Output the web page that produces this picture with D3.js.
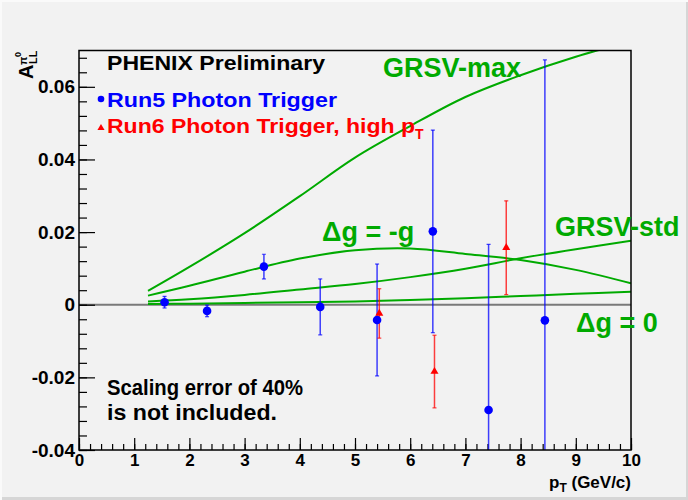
<!DOCTYPE html>
<html>
<head>
<meta charset="utf-8">
<script src="https://cdn.jsdelivr.net/npm/d3@7"></script>
<style>
  html, body { margin: 0; padding: 0; background: #f2f2f2; }
  svg { display: block; font-family: "Liberation Sans", Arial, sans-serif; font-weight: bold; }
</style>
</head>
<body>
<div id="chart"></div>
<script>
'use strict';

// Run5 photon trigger (blue circles)
var run5X = [1.55, 2.32, 3.35, 4.37, 5.40, 6.41, 7.42, 8.44];
var run5Y = [0.0007, -0.0017, 0.0105, -0.0006, -0.0042, 0.0202, -0.0290, -0.0043];
var run5Err = [0.0016, 0.0016, 0.0034, 0.0077, 0.0154, 0.0279, 0.0456, 0.0717];

// Run6 photon trigger, high pT (red triangles)
var run6X = [5.44, 6.44, 7.74];
var run6Y = [-0.0024, -0.0184, 0.0157];
var run6Err = [0.0068, 0.0100, 0.0129];

// theory curves
var curveX = [1.25, 2, 3, 4, 5, 6, 7, 8, 9, 10];
var grsvMax = [0.0038, 0.0104, 0.0197, 0.0299, 0.0405, 0.0492, 0.0572, 0.0632, 0.0683, 0.0725];
var grsvStd = [0.0009, 0.0015, 0.0027, 0.0042, 0.0057, 0.0076, 0.0099, 0.0128, 0.0153, 0.0176];
var dgMinusG = [0.0025, 0.0052, 0.0091, 0.0127, 0.0150, 0.0155, 0.0140, 0.0123, 0.0096, 0.0059];
var dgZero = [0.0002, 0.0003, 0.0005, 0.0007, 0.0009, 0.0013, 0.0018, 0.0024, 0.0030, 0.0036];

var xTicks = [0, 1, 2, 3, 4, 5, 6, 7, 8, 9, 10];
var yTicks = [-0.04, -0.02, 0, 0.02, 0.04, 0.06];

(function() {
    var width = 688, height = 500;
    var pLeft = 79, pRight = 631, pTop = 50.5, pBottom = 450;
    var green = '#00aa00';

    var svg = d3.select('#chart').append('svg')
        .attr('width', width)
        .attr('height', height);

    // canvas with bevelled border
    svg.append('rect').attr('width', width).attr('height', height).attr('fill', '#f2f2f2');
    svg.append('rect').attr('x', 0).attr('y', height - 3).attr('width', width).attr('height', 3).attr('fill', '#d6d6d6');
    svg.append('rect').attr('x', width - 2).attr('y', 0).attr('width', 2).attr('height', height).attr('fill', '#d6d6d6');
    svg.append('rect').attr('x', 0).attr('y', 0).attr('width', width).attr('height', 2).attr('fill', '#fafafa');
    svg.append('rect').attr('x', 0).attr('y', 0).attr('width', 2).attr('height', height).attr('fill', '#fafafa');

    var x = d3.scaleLinear().domain([0, 10]).range([pLeft, pRight]);
    var y = d3.scaleLinear().domain([-0.04, 0.07]).range([pBottom, pTop]);

    svg.append('clipPath').attr('id', 'plot')
        .append('rect')
        .attr('x', pLeft).attr('y', pTop)
        .attr('width', pRight - pLeft).attr('height', pBottom - pTop);

    // zero line
    svg.append('line')
        .attr('x1', pLeft).attr('x2', pRight)
        .attr('y1', y(0)).attr('y2', y(0))
        .attr('stroke', '#7a7a7a').attr('stroke-width', 2);

    // axes
    function fmtY(d) { return d === 0 ? '0' : d.toFixed(2); }

    var yMinorVals = d3.range(-0.04, 0.0701, 0.004).map(function(d) { return +d.toFixed(3); });
    var xMinorVals = d3.range(0, 10.01, 0.2).map(function(d) { return +d.toFixed(1); });

    svg.append('g').attr('class', 'aix')
        .attr('transform', 'translate(' + pLeft + ',0)')
        .call(d3.axisLeft(y).tickValues(yMinorVals).tickSizeInner(-8).tickSizeOuter(0).tickFormat(''));
    svg.append('g').attr('class', 'aix ylab')
        .attr('transform', 'translate(' + pLeft + ',0)')
        .call(d3.axisLeft(y).tickValues(yTicks).tickSizeInner(-16).tickSizeOuter(0).tickPadding(4).tickFormat(fmtY));

    svg.append('g').attr('class', 'aix')
        .attr('transform', 'translate(0,' + pBottom + ')')
        .call(d3.axisBottom(x).tickValues(xMinorVals).tickSizeInner(-6).tickSizeOuter(0).tickFormat(''));
    svg.append('g').attr('class', 'aix xlab')
        .attr('transform', 'translate(0,' + pBottom + ')')
        .call(d3.axisBottom(x).tickValues(xTicks).tickSizeInner(-12).tickSizeOuter(0).tickPadding(4).tickFormat(d3.format('d')));

    svg.selectAll('.aix').attr('font-family', null).attr('font-size', null);
    svg.selectAll('.aix .domain').remove();
    svg.selectAll('.aix line').attr('stroke', '#000').attr('stroke-width', 1.2);
    svg.selectAll('.aix text').attr('fill', '#000');
    svg.selectAll('.ylab text').style('font-size', '19px');
    svg.selectAll('.xlab text').style('font-size', '17px');

    // curves
    var line = d3.line()
        .x(function(d) { return x(d[0]); })
        .y(function(d) { return y(d[1]); })
        .curve(d3.curveCatmullRom.alpha(0.5));

    var curves = svg.append('g').attr('clip-path', 'url(#plot)');
    [grsvMax, grsvStd, dgMinusG, dgZero].forEach(function(vals) {
        curves.append('path')
            .attr('d', line(curveX.map(function(cx, i) { return [cx, vals[i]]; })))
            .attr('fill', 'none')
            .attr('stroke', green)
            .attr('stroke-width', 2);
    });

    // error bars + markers
    function errorBars(g, xs, ys, es, color, opacity) {
        xs.forEach(function(px, i) {
            var lo = ys[i] - es[i], hi = ys[i] + es[i];
            g.append('line')
                .attr('x1', x(px)).attr('x2', x(px))
                .attr('y1', y(lo)).attr('y2', y(hi))
                .attr('stroke', color).attr('stroke-width', 1.5).attr('stroke-opacity', opacity);
            [lo, hi].forEach(function(v) {
                g.append('line')
                    .attr('x1', x(px) - 2).attr('x2', x(px) + 2)
                    .attr('y1', y(v)).attr('y2', y(v))
                    .attr('stroke', color).attr('stroke-width', 1.2).attr('stroke-opacity', opacity);
            });
        });
    }

    var pts = svg.append('g').attr('clip-path', 'url(#plot)');
    errorBars(pts, run5X, run5Y, run5Err, '#0000ff', 0.75);
    errorBars(pts, run6X, run6Y, run6Err, '#ff0000', 0.75);

    pts.selectAll('.r5').data(run5X).enter().append('circle')
        .attr('cx', function(d) { return x(d); })
        .attr('cy', function(d, i) { return y(run5Y[i]); })
        .attr('r', 4.3)
        .attr('fill', '#0000ff');

    pts.selectAll('.r6').data(run6X).enter().append('path')
        .attr('d', d3.symbol().type(d3.symbolTriangle).size(28))
        .attr('transform', function(d, i) { return 'translate(' + x(d) + ',' + y(run6Y[i]) + ')'; })
        .attr('fill', '#ff0000');

    // frame
    svg.append('rect')
        .attr('x', pLeft).attr('y', pTop)
        .attr('width', pRight - pLeft).attr('height', pBottom - pTop)
        .attr('fill', 'none').attr('stroke', '#000').attr('stroke-width', 1.5);

    // legend / annotations
    svg.append('text').attr('x', 107).attr('y', 70).style('font-size', '20px')
        .attr('textLength', 218).attr('lengthAdjust', 'spacingAndGlyphs')
        .text('PHENIX Preliminary');

    svg.append('circle').attr('cx', 101).attr('cy', 99).attr('r', 3.3).attr('fill', '#0000ff');
    svg.append('text').attr('x', 107).attr('y', 107).style('font-size', '20px').attr('fill', '#0000ff')
        .attr('textLength', 230).attr('lengthAdjust', 'spacingAndGlyphs')
        .text('Run5 Photon Trigger');

    svg.append('path').attr('d', d3.symbol().type(d3.symbolTriangle).size(22))
        .attr('transform', 'translate(101,128)').attr('fill', '#ff0000');
    svg.append('text').attr('x', 107).attr('y', 133).style('font-size', '20px').attr('fill', '#ff0000')
        .attr('textLength', 308).attr('lengthAdjust', 'spacingAndGlyphs')
        .text('Run6 Photon Trigger, high p');
    svg.append('text').attr('x', 415).attr('y', 139).style('font-size', '14px').attr('fill', '#ff0000')
        .text('T');

    function greenLabel(tx, ty, s) {
        svg.append('text').attr('x', tx).attr('y', ty).style('font-size', '27px').attr('fill', green).text(s);
    }
    greenLabel(383, 77, 'GRSV-max');
    greenLabel(555, 236, 'GRSV-std');
    greenLabel(322, 241, '\u0394g = -g');
    greenLabel(576, 332, '\u0394g = 0');

    svg.append('text').attr('x', 107).attr('y', 395).style('font-size', '22px')
        .attr('textLength', 196).attr('lengthAdjust', 'spacingAndGlyphs')
        .text('Scaling error of 40%');
    svg.append('text').attr('x', 107).attr('y', 420).style('font-size', '22px')
        .attr('textLength', 170).attr('lengthAdjust', 'spacingAndGlyphs')
        .text('is not included.');

    // axis titles
    var xt = svg.append('text').attr('x', pRight).attr('y', 488).attr('text-anchor', 'end').style('font-size', '17px');
    xt.append('tspan').text('p');
    xt.append('tspan').attr('dy', 4).style('font-size', '12px').text('T');
    xt.append('tspan').attr('dy', -4).text(' (GeV/c)');

    var yt = svg.append('g').attr('transform', 'translate(33,0) rotate(-90)');
    yt.append('text').attr('x', -79).attr('y', 0).style('font-size', '20px').text('A');
    yt.append('text').attr('x', -64).attr('y', 4).style('font-size', '11px').text('LL');
    yt.append('text').attr('x', -65).attr('y', -6).style('font-size', '11px').text('\u03c0');
    yt.append('text').attr('x', -57).attr('y', -12).style('font-size', '9px').text('0');
})();
</script>
</body>
</html>
